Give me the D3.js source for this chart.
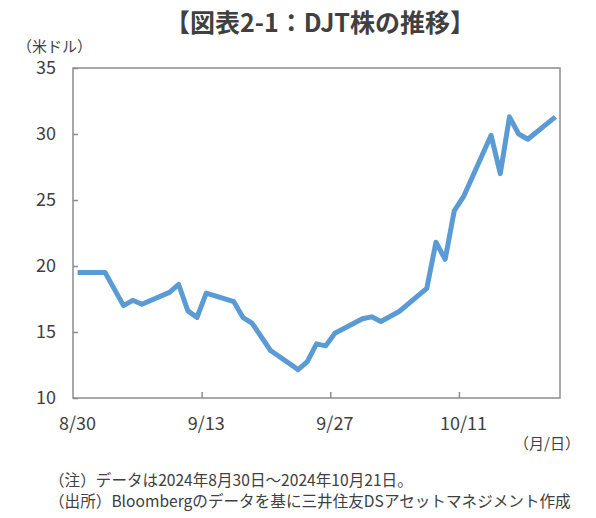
<!DOCTYPE html>
<html><head><meta charset="utf-8">
<script src="https://cdn.jsdelivr.net/npm/d3@7"></script>
<style>
html,body{margin:0;padding:0;background:#fff;}
text{font-family:"Noto Sans CJK JP","Noto Sans",sans-serif;fill:#404040;}
</style></head>
<body><svg id="c" width="596" height="518"></svg>
<script>
const dates = ["2024-08-30","2024-09-02","2024-09-04","2024-09-05","2024-09-06","2024-09-09","2024-09-10","2024-09-11","2024-09-12","2024-09-13","2024-09-16","2024-09-17","2024-09-18","2024-09-20","2024-09-23","2024-09-24","2024-09-25","2024-09-26","2024-09-27","2024-09-30","2024-10-01","2024-10-02","2024-10-04","2024-10-07","2024-10-08","2024-10-09","2024-10-10","2024-10-11","2024-10-14","2024-10-15","2024-10-16","2024-10-17","2024-10-18","2024-10-21"];
const prices = [19.5,19.5,17.0,17.4,17.1,18.0,18.6,16.6,16.1,17.95,17.3,16.1,15.65,13.6,12.15,12.75,14.1,13.95,14.9,16.0,16.15,15.8,16.55,18.3,21.8,20.5,24.2,25.25,29.9,27.0,31.3,30.0,29.6,31.3];
const xTickLabels = ["8/30","9/13","9/27","10/11"];
const xTickDates = ["2024-08-30","2024-09-13","2024-09-27","2024-10-11"];
const yTicks = [10,15,20,25,30,35];
const title = "【図表2-1：DJT株の推移】";
const yUnit = "（米ドル）";
const xUnit = "（月/日）";
const notes = ["（注）データは2024年8月30日～2024年10月21日。","（出所）Bloombergのデータを基に三井住友DSアセットマネジメント作成"];

const parse = d3.utcParse("%Y-%m-%d");
const HALF = 12*3600*1000;
const data = dates.map((d,i)=>({date:parse(d), v:prices[i]}));
const svg = d3.select("#c");
const L=73, R=560, T=68, B=398;
const x = d3.scaleUtc().domain([new Date(parse("2024-08-30")-HALF), new Date(+parse("2024-10-21")+HALF)]).range([L,R]);
const y = d3.scaleLinear().domain([10,35]).range([B,T]);

svg.append("text").attr("x",320).attr("y",21).attr("text-anchor","middle").attr("dominant-baseline","central")
  .style("font-size","25px").style("font-weight","bold").text(title);
svg.append("text").attr("x",17).attr("y",45).attr("dominant-baseline","central").style("font-size","15px").text(yUnit);

// frame
svg.append("rect").attr("x",L).attr("y",T).attr("width",R-L).attr("height",B-T)
  .attr("fill","none").attr("stroke","#8c8c8c").attr("stroke-width",1.5);

// y axis
const yAxis = d3.axisLeft(y).tickValues(yTicks).tickSize(-5).tickPadding(17);
const gy = svg.append("g").attr("transform",`translate(${L},0)`).call(yAxis);
gy.select(".domain").remove();
gy.selectAll(".tick line").attr("stroke","#8c8c8c").attr("stroke-width",1.5);
gy.selectAll(".tick text").style("font-size","18px").style("font-family","\"Noto Sans CJK JP\",sans-serif").attr("fill","#404040");

// x axis ticks at day boundaries
const boundaries = xTickDates.slice(1).map(d=>new Date(parse(d)-HALF));
const xAxis = d3.axisBottom(x).tickValues(boundaries).tickSize(-6).tickFormat("");
const gx = svg.append("g").attr("transform",`translate(0,${B})`).call(xAxis);
gx.select(".domain").remove();
gx.selectAll(".tick line").attr("stroke","#8c8c8c").attr("stroke-width",1.5);
// x labels centered on dates
svg.append("g").selectAll("text").data(xTickDates).join("text")
  .attr("x",d=>x(parse(d))).attr("y",422).attr("text-anchor","middle").attr("dominant-baseline","central")
  .style("font-size","18px").text((d,i)=>xTickLabels[i]);
svg.append("text").attr("x",514).attr("y",442).attr("dominant-baseline","central").style("font-size","15px").text(xUnit);

// line
svg.append("path").datum(data).attr("fill","none").attr("stroke","#5b9bd5").attr("stroke-width",5)
  .attr("stroke-linejoin","round")
  .attr("d",d3.line().x(d=>x(d.date)).y(d=>y(d.v)));

// notes
svg.append("g").selectAll("text").data(notes).join("text")
  .attr("x",49).attr("y",(d,i)=>479+i*21).attr("dominant-baseline","central").style("font-size","15.6px").text(d=>d);
</script></body></html>
